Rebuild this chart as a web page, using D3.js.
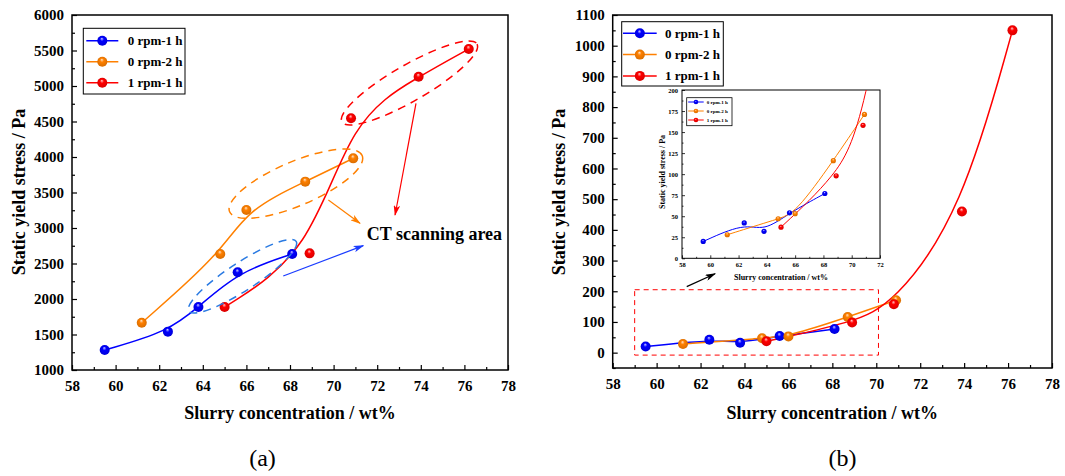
<!DOCTYPE html>
<html>
<head>
<meta charset="utf-8">
<script src="https://cdn.jsdelivr.net/npm/d3@7"></script>
<style>
  body { margin: 0; background: #fff; }
  svg text { font-family: "Liberation Serif", "DejaVu Serif", "Times New Roman", serif; }
</style>
</head>
<body>
<div id="chart"></div>
<script>
// ---- data ----
var seriesNames = ["0 rpm-1 h", "0 rpm-2 h", "1 rpm-1 h"];
var seriesColors = ["#0000ff", "#ff8000", "#ff0000"];

// slurry concentration (wt%) of each series, same in both panels
var concRpm0h1 = [59.5, 62.4, 63.8, 65.6, 68.1];
var concRpm0h2 = [61.2, 64.8, 66.0, 68.7, 70.9];
var concRpm1h1 = [65.0, 68.9, 70.8, 73.9, 76.2];

// (a) static yield stress, Pa
var stressA_rpm0h1 = [1282, 1540, 1887, 2376, 2634];
var stressA_rpm0h2 = [1666, 2634, 3254, 3653, 3981];
var stressA_rpm1h1 = [1887, 2643, 4545, 5131, 5521];

// (b) static yield stress, Pa
var stressB_rpm0h1 = [20, 42, 32, 54, 77];
var stressB_rpm0h2 = [28, 47, 53, 116, 171];
var stressB_rpm1h1 = [37, 98, 158, 460, 1050];

// ticks
var xTicks = [58, 60, 62, 64, 66, 68, 70, 72, 74, 76, 78];
var xMinor = [59, 61, 63, 65, 67, 69, 71, 73, 75, 77];
var yTicksA = [1000, 1500, 2000, 2500, 3000, 3500, 4000, 4500, 5000, 5500, 6000];
var yMinorA = [1250, 1750, 2250, 2750, 3250, 3750, 4250, 4750, 5250, 5750];
var yTicksB = [0, 100, 200, 300, 400, 500, 600, 700, 800, 900, 1000, 1100];
var yMinorB = [-50, 50, 150, 250, 350, 450, 550, 650, 750, 850, 950, 1050];
var xTicksInset = [58, 60, 62, 64, 66, 68, 70, 72];
var xMinorInset = [59, 61, 63, 65, 67, 69, 71];
var yTicksInset = [0, 25, 50, 75, 100, 125, 150, 175, 200];
var yMinorInset = [12.5, 37.5, 62.5, 87.5, 112.5, 137.5, 162.5, 187.5];

var xLabel = "Slurry concentration / wt%";
var yLabel = "Static yield stress / Pa";

function toPoints(xs, ys) {
    return xs.map(function (d, i) { return { x: d, y: ys[i] }; });
}
var seriesA = [toPoints(concRpm0h1, stressA_rpm0h1), toPoints(concRpm0h2, stressA_rpm0h2), toPoints(concRpm1h1, stressA_rpm1h1)];
var seriesB = [toPoints(concRpm0h1, stressB_rpm0h1), toPoints(concRpm0h2, stressB_rpm0h2), toPoints(concRpm1h1, stressB_rpm1h1)];

var svg = d3.select("#chart").append("svg")
    .attr("width", 1065)
    .attr("height", 476);

var defs = svg.append("defs");

// shiny ball gradients
seriesColors.forEach(function (c, i) {
    var grad = defs.append("radialGradient")
        .attr("id", "ball" + i)
        .attr("cx", "50%").attr("cy", "50%").attr("r", "55%")
        .attr("fx", "45%").attr("fy", "28%");
    grad.append("stop").attr("offset", "0%").attr("stop-color", d3.interpolateRgb(c, "#fff")(0.8));
    grad.append("stop").attr("offset", "35%").attr("stop-color", c);
    grad.append("stop").attr("offset", "100%").attr("stop-color", d3.color(c).darker(0.5));
});

// arrow heads
var arrowColors = { red: "#ff0000", orange: "#ff8000", blue: "#1a3cff", black: "#000" };
Object.keys(arrowColors).forEach(function (k) {
    defs.append("marker")
        .attr("id", "arrow-" + k)
        .attr("viewBox", "0 0 10 6")
        .attr("refX", 9).attr("refY", 3)
        .attr("markerWidth", 11).attr("markerHeight", 6.5)
        .attr("markerUnits", "userSpaceOnUse")
        .attr("orient", "auto")
        .append("path")
        .attr("d", "M0,0 L10,3 L0,6 L2.5,3 Z")
        .attr("fill", arrowColors[k]);
});

function drawAxes(g, x, y, o) {
    var fs = o.fontSize;
    // minor ticks
    g.append("g")
        .attr("transform", "translate(0," + y.range()[0] + ")")
        .call(d3.axisBottom(x).tickValues(o.xMinor).tickSize(-o.minor).tickFormat(""))
        .call(function (s) { s.select(".domain").remove(); });
    g.append("g")
        .attr("transform", "translate(" + x.range()[0] + ",0)")
        .call(d3.axisLeft(y).tickValues(o.yMinor).tickSize(-o.minor).tickFormat(""))
        .call(function (s) { s.select(".domain").remove(); });

    // major ticks
    var xa = g.append("g")
        .attr("transform", "translate(0," + y.range()[0] + ")")
        .call(d3.axisBottom(x).tickValues(o.xTicks).tickSize(-o.major).tickSizeOuter(0)
            .tickPadding(o.xPad).tickFormat(d3.format("d")));
    var ya = g.append("g")
        .attr("transform", "translate(" + x.range()[0] + ",0)")
        .call(d3.axisLeft(y).tickValues(o.yTicks).tickSize(-o.major).tickSizeOuter(0)
            .tickPadding(o.yPad).tickFormat(d3.format("d")));
    [xa, ya].forEach(function (a) {
        a.select(".domain").remove();
        a.selectAll("text")
            .attr("font-weight", "bold")
            .attr("font-size", fs)
            .attr("fill", "#000");
    });
    g.selectAll("g.tick line").attr("stroke", "#000").attr("stroke-width", o.tickWidth);

    // frame
    g.append("rect")
        .attr("x", x.range()[0]).attr("y", y.range()[1])
        .attr("width", x.range()[1] - x.range()[0])
        .attr("height", y.range()[0] - y.range()[1])
        .attr("fill", "none")
        .attr("stroke", "#000")
        .attr("stroke-width", o.frameWidth);

    // axis titles
    g.append("text")
        .attr("x", (x.range()[0] + x.range()[1]) / 2)
        .attr("y", o.xTitleY)
        .attr("text-anchor", "middle")
        .attr("font-weight", "bold")
        .attr("font-size", o.titleSize)
        .text(xLabel);
    g.append("text")
        .attr("transform", "translate(" + o.yTitleX + "," + o.yTitleMid + ") rotate(-90)")
        .attr("text-anchor", "middle")
        .attr("font-weight", "bold")
        .attr("font-size", o.titleSize)
        .text(yLabel);
}

function drawSeries(g, x, y, series, r, lw, clipId) {
    var line = d3.line()
        .curve(d3.curveBasis)
        .x(function (d) { return x(d.x); })
        .y(function (d) { return y(d.y); });
    var lg = g.append("g");
    if (clipId) lg.attr("clip-path", "url(#" + clipId + ")");
    series.forEach(function (s, i) {
        lg.append("path")
            .attr("d", line(s))
            .attr("fill", "none")
            .attr("stroke", seriesColors[i])
            .attr("stroke-width", lw);
    });
    series.forEach(function (s, i) {
        lg.selectAll(".pt" + i)
            .data(s)
            .enter().append("circle")
            .attr("class", "pt" + i)
            .attr("cx", function (d) { return x(d.x); })
            .attr("cy", function (d) { return y(d.y); })
            .attr("r", r)
            .attr("fill", "url(#ball" + i + ")");
    });
}

function drawLegend(g, left, top, o) {
    var lg = g.append("g").attr("transform", "translate(" + left + "," + top + ")");
    lg.append("rect")
        .attr("width", o.w).attr("height", o.h)
        .attr("fill", "#fff")
        .attr("stroke", "#000")
        .attr("stroke-width", o.border);
    seriesNames.forEach(function (name, i) {
        var row = lg.append("g").attr("transform", "translate(0," + (o.first + i * o.step) + ")");
        row.append("line")
            .attr("x1", o.lineX1).attr("x2", o.lineX2)
            .attr("stroke", seriesColors[i])
            .attr("stroke-width", o.lw);
        row.append("circle")
            .attr("cx", (o.lineX1 + o.lineX2) / 2)
            .attr("r", o.r)
            .attr("fill", "url(#ball" + i + ")");
        row.append("text")
            .attr("x", o.textX)
            .attr("dy", "0.35em")
            .attr("font-weight", "bold")
            .attr("font-size", o.fs)
            .text(name);
    });
}

function ellipse(g, x, y, cx, cy, rx, ry, angle, color) {
    g.append("ellipse")
        .attr("transform", "translate(" + x(cx) + "," + y(cy) + ") rotate(" + angle + ")")
        .attr("rx", rx).attr("ry", ry)
        .attr("fill", "none")
        .attr("stroke", color)
        .attr("stroke-width", 1.5)
        .attr("stroke-dasharray", "8,6");
}

function arrow(g, x, y, x1, y1, x2, y2, key, color) {
    g.append("line")
        .attr("x1", x(x1)).attr("y1", y(y1))
        .attr("x2", x(x2)).attr("y2", y(y2))
        .attr("stroke", color)
        .attr("stroke-width", 1.2)
        .attr("marker-end", "url(#arrow-" + key + ")");
}

// ================= panel (a) =================
var xA = d3.scaleLinear().domain([58, 78]).range([72, 508]);
var yA = d3.scaleLinear().domain([1000, 6000]).range([370, 15]);
var gA = svg.append("g");

drawAxes(gA, xA, yA, {
    xTicks: xTicks, xMinor: xMinor, yTicks: yTicksA, yMinor: yMinorA,
    major: 5, minor: 3, tickWidth: 1.2, frameWidth: 1.5,
    fontSize: 15, titleSize: 18, xPad: 10, yPad: 8,
    xTitleY: 419, yTitleX: 25, yTitleMid: 192
});
drawSeries(gA, xA, yA, seriesA, 5, 1.5);

// CT scanning area marks
ellipse(gA, xA, yA, 73.48, 5042, 78, 18, -30, "#ff0000");
ellipse(gA, xA, yA, 68.27, 3624, 72, 22, -23, "#ff8000");
ellipse(gA, xA, yA, 65.82, 2320, 64, 14, -33, "#2a7ae2");
arrow(gA, xA, yA, 73.78, 4756, 72.82, 3183, "red", "#ff0000");
arrow(gA, xA, yA, 69.76, 3394, 71.21, 3066, "orange", "#ff8000");
arrow(gA, xA, yA, 67.69, 2324, 71.36, 2751, "blue", "#1a3cff");
gA.append("text")
    .attr("x", xA(71.52)).attr("y", yA(2831))
    .attr("font-weight", "bold")
    .attr("font-size", 18)
    .text("CT scanning area");

drawLegend(gA, 83.3, 28.3, {
    w: 101.7, h: 65.7, border: 1, first: 12.4, step: 21,
    lineX1: 3, lineX2: 35, lw: 1.5, r: 5, textX: 44.4, fs: 13
});

gA.append("text")
    .attr("x", 262.5).attr("y", 466)
    .attr("text-anchor", "middle")
    .attr("font-size", 24)
    .text("(a)");

// ================= panel (b) =================
var xB = d3.scaleLinear().domain([58, 78]).range([612.7, 1052]);
var yB = d3.scaleLinear().domain([-50, 1100]).range([368, 15]);
var gB = svg.append("g");

drawAxes(gB, xB, yB, {
    xTicks: xTicks, xMinor: xMinor, yTicks: yTicksB, yMinor: yMinorB,
    major: 5, minor: 3, tickWidth: 1.2, frameWidth: 1.5,
    fontSize: 15, titleSize: 18, xPad: 10, yPad: 8,
    xTitleY: 419, yTitleX: 565, yTitleMid: 192
});
drawSeries(gB, xB, yB, seriesB, 5, 1.5);

// zoomed region box and arrow
gB.append("rect")
    .attr("x", xB(59)).attr("y", yB(205))
    .attr("width", xB(70.1) - xB(59))
    .attr("height", yB(-8) - yB(205))
    .attr("fill", "none")
    .attr("stroke", "#ff0000")
    .attr("stroke-width", 1)
    .attr("stroke-dasharray", "5,4");
arrow(gB, xB, yB, 61.37, 215, 62.66, 257, "black", "#000");

drawLegend(gB, 621.7, 21.7, {
    w: 101.6, h: 64.3, border: 1, first: 11.6, step: 21.3,
    lineX1: 1.3, lineX2: 35, lw: 1.5, r: 5, textX: 43.3, fs: 13
});

// ---- inset ----
var xI = d3.scaleLinear().domain([58, 72]).range([682, 880]);
var yI = d3.scaleLinear().domain([0, 200]).range([258.3, 90]);
var gI = svg.append("g");
gI.append("rect")
    .attr("x", 682).attr("y", 90).attr("width", 198).attr("height", 168.3)
    .attr("fill", "#fff");
defs.append("clipPath").attr("id", "insetClip")
    .append("rect")
    .attr("x", 682).attr("y", 90).attr("width", 198).attr("height", 168.3);

drawAxes(gI, xI, yI, {
    xTicks: xTicksInset, xMinor: xMinorInset, yTicks: yTicksInset, yMinor: yMinorInset,
    major: 3, minor: 1.5, tickWidth: 0.8, frameWidth: 1,
    fontSize: 6.5, titleSize: 8, xPad: 4, yPad: 4,
    xTitleY: 280, yTitleX: 665, yTitleMid: 172
});
drawSeries(gI, xI, yI, seriesB, 2.6, 1, "insetClip");

drawLegend(gI, 686.7, 97.7, {
    w: 45.3, h: 28, border: 0.8, first: 4.3, step: 9,
    lineX1: 1.5, lineX2: 17, lw: 1, r: 2.3, textX: 20, fs: 5
});

gB.append("text")
    .attr("x", 842.5).attr("y", 466)
    .attr("text-anchor", "middle")
    .attr("font-size", 24)
    .text("(b)");
</script>
</body>
</html>
